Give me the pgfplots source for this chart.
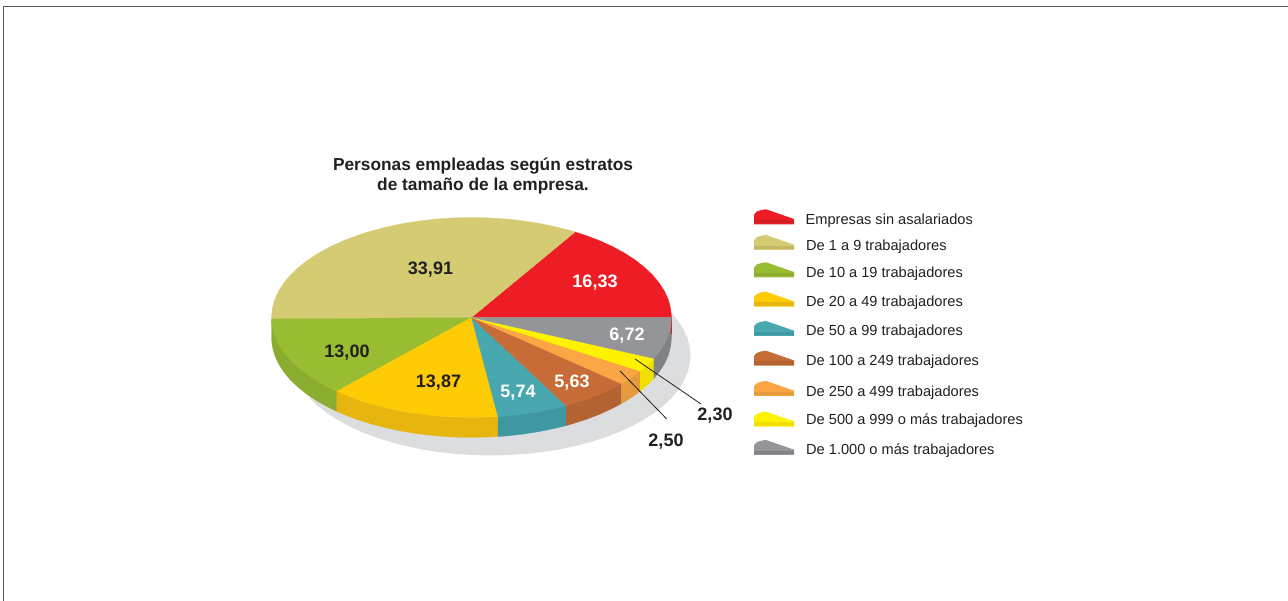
\documentclass[border=0pt]{standalone}
\usepackage{fontspec}
\setmainfont{Liberation Sans}
\usepackage{pgfplots}
\usepackage{pgfplotstable}
\pgfplotsset{compat=1.18}

\definecolor{txt}{HTML}{231F20}
\definecolor{frame}{HTML}{58595B}
\definecolor{shadow}{HTML}{DCDDDF}
\definecolor{cRed}{HTML}{EE1C25}    \definecolor{wRed}{HTML}{D11F27}
\definecolor{cKhaki}{HTML}{D5CB72}  \definecolor{wKhaki}{HTML}{C2B767}
\definecolor{cGreen}{HTML}{98BC32}  \definecolor{wGreen}{HTML}{8BAD2F}
\definecolor{cGold}{HTML}{FFCB05}   \definecolor{wGold}{HTML}{E6B60F}
\definecolor{cTeal}{HTML}{48A7AF}   \definecolor{wTeal}{HTML}{3F97A1}
\definecolor{cBrown}{HTML}{C76C36}  \definecolor{wBrown}{HTML}{B36232}
\definecolor{cOrange}{HTML}{FBA544} \definecolor{wOrange}{HTML}{E59A3C}
\definecolor{cYellow}{HTML}{FFF200} \definecolor{wYellow}{HTML}{EFE000}
\definecolor{cGray}{HTML}{939598}   \definecolor{wGray}{HTML}{818285}

% legend swatch outline, x and y in pixels from its lower left corner
\pgfplotstableread{
x y
0 0
0 9.3
1.2 11.2
3 12.8
7 14.2
12 15
40 5.3
40 0
}\swatchtop
\pgfplotstableread{
x y
0 0.8
0 4.2
40 4.2
40 0.8
}\swatchwall

\newcommand{\swatch}[3]{%
  \addplot[fill=#1,draw=none] table[x expr=\thisrow{x}+282.5,y expr=\thisrow{y}+#3] {\swatchtop} --cycle;
  \addplot[fill=#2,draw=none] table[x expr=\thisrow{x}+282.5,y expr=\thisrow{y}+#3] {\swatchwall} --cycle;
}
\newcommand{\leg}[3]{\node[anchor=west,yshift=-2pt,font=\fontsize{14.6}{16}\selectfont,text=txt,inner sep=0pt] at (axis cs:#1,#2) {#3};}
\newcommand{\val}[4]{\node[yshift=-2pt,font=\fontsize{18}{20}\bfseries\selectfont,text=#3,inner sep=0pt] at (axis cs:#1,#2) {#4};}

\begin{document}
\begin{tikzpicture}
\begin{axis}[
  scale only axis, width=1288pt, height=601pt,
  xmin=-471.5, xmax=816.5, ymin=-283.5, ymax=317.5,
  axis lines=none, clip=false,
  every axis plot/.append style={line width=0.25pt}
]
% keep the whole page in the bounding box
\path[use as bounding box] (axis cs:-471.5,-283.5) rectangle (axis cs:816.5,317.5);

% page frame
\addplot[frame,line width=1.8pt] coordinates {(-468,-283.5)(-468,311)(816.5,311)};

% shadow under the pie
\addplot[fill=shadow,draw=none] coordinates {
 (200.3,4.3)(206.9,-3.8)(212.2,-12.1)(216,-20.6)(218.2,-29.3)(219,-38)
 (218.2,-46.7)(216,-55.4)(212.2,-63.9)(206.9,-72.2)(200.3,-80.3)(192.2,-88)(182.8,-95.4)(172.2,-102.3)
 (160.4,-108.7)(147.6,-114.6)(133.7,-119.9)(119,-124.6)(103.5,-128.6)(87.4,-132)(70.8,-134.6)(53.7,-136.5)(36.4,-137.6)(19,-138)
 (1.6,-137.6)(-15.7,-136.5)(-32.8,-134.6)(-49.4,-132)(-65.5,-128.6)(-81,-124.6)(-95.7,-119.9)(-109.6,-114.6)
 (-122.4,-108.7)(-134.2,-102.3)(-144.8,-95.4)(-154.2,-88)(-162.3,-80.3)
} --cycle;

% side walls
\addplot[fill=wGreen,draw=wGreen] coordinates {(-200,-1.5)(-199.2,-8.7)(-197,-17.4)(-193.2,-25.9)(-187.9,-34.2)(-181.3,-42.3)(-173.2,-50)(-163.8,-57.4)(-153.2,-64.3)(-141.4,-70.7)(-134.7,-73.9)(-134.7,-93.9)(-141.4,-90.7)(-153.2,-84.3)(-163.8,-77.4)(-173.2,-70)(-181.3,-62.3)(-187.9,-54.2)(-193.2,-45.9)(-197,-37.4)(-199.2,-28.7)(-200,-21.5)} --cycle;
\addplot[fill=wGold,draw=wGold] coordinates {(-134.7,-73.9)(-128.6,-76.6)(-114.7,-81.9)(-100,-86.6)(-84.5,-90.6)(-68.4,-94)(-51.8,-96.6)(-34.7,-98.5)(-17.4,-99.6)(0,-100)(17.4,-99.6)(26.5,-99.1)(26.5,-119.1)(17.4,-119.6)(0,-120)(-17.4,-119.6)(-34.7,-118.5)(-51.8,-116.6)(-68.4,-114)(-84.5,-110.6)(-100,-106.6)(-114.7,-101.9)(-128.6,-96.6)(-134.7,-93.9)} --cycle;
\addplot[fill=wTeal,draw=wTeal] coordinates {(26.5,-99.1)(34.7,-98.5)(51.8,-96.6)(68.4,-94)(84.5,-90.6)(94.7,-88.1)(94.7,-108.1)(84.5,-110.6)(68.4,-114)(51.8,-116.6)(34.7,-118.5)(26.5,-119.1)} --cycle;
\addplot[fill=wBrown,draw=wBrown] coordinates {(94.7,-88.1)(100,-86.6)(114.7,-81.9)(128.6,-76.6)(141.4,-70.7)(149.8,-66.2)(149.8,-86.2)(141.4,-90.7)(128.6,-96.6)(114.7,-101.9)(100,-106.6)(94.7,-108.1)} --cycle;
\addplot[fill=wOrange,draw=wOrange] coordinates {(149.8,-66.2)(153.2,-64.3)(163.8,-57.4)(168.7,-53.7)(168.7,-73.7)(163.8,-77.4)(153.2,-84.3)(149.8,-86.2)} --cycle;
\addplot[fill=wYellow,draw=wYellow] coordinates {(168.7,-53.7)(173.2,-50)(181.3,-42.3)(182.4,-41)(182.4,-61)(181.3,-62.3)(173.2,-70)(168.7,-73.7)} --cycle;
\addplot[fill=wGray,draw=wGray] coordinates {(182.4,-41)(187.9,-34.2)(193.2,-25.9)(197,-17.4)(199.2,-8.7)(200,0)(200,-20)(199.2,-28.7)(197,-37.4)(193.2,-45.9)(187.9,-54.2)(182.4,-61)} --cycle;
\addplot[wRed,line width=0.7pt] coordinates {(199.7,0)(199.7,-17)};

% top slices
\addplot[fill=cRed,draw=cRed] coordinates {(0,0)(200,0)(199.2,8.7)(197,17.4)(193.2,25.9)(187.9,34.2)(181.3,42.3)(173.2,50)(163.8,57.4)(153.2,64.3)(141.4,70.7)(128.6,76.6)(114.7,81.9)(103.6,85.5)} --cycle;
\addplot[fill=cKhaki,draw=cKhaki] coordinates {(0,0)(103.6,85.5)(100,86.6)(84.5,90.6)(68.4,94)(51.8,96.6)(34.7,98.5)(17.4,99.6)(0,100)(-17.4,99.6)(-34.7,98.5)(-51.8,96.6)(-68.4,94)(-84.5,90.6)(-100,86.6)(-114.7,81.9)(-128.6,76.6)(-141.4,70.7)(-153.2,64.3)(-163.8,57.4)(-173.2,50)(-181.3,42.3)(-187.9,34.2)(-193.2,25.9)(-197,17.4)(-199.2,8.7)(-200,0)(-200,-1.5)} --cycle;
\addplot[fill=cGreen,draw=cGreen] coordinates {(0,0)(-200,-1.5)(-199.2,-8.7)(-197,-17.4)(-193.2,-25.9)(-187.9,-34.2)(-181.3,-42.3)(-173.2,-50)(-163.8,-57.4)(-153.2,-64.3)(-141.4,-70.7)(-134.7,-73.9)} --cycle;
\addplot[fill=cGold,draw=cGold] coordinates {(0,0)(-134.7,-73.9)(-128.6,-76.6)(-114.7,-81.9)(-100,-86.6)(-84.5,-90.6)(-68.4,-94)(-51.8,-96.6)(-34.7,-98.5)(-17.4,-99.6)(0,-100)(17.4,-99.6)(26.5,-99.1)} --cycle;
\addplot[fill=cTeal,draw=cTeal] coordinates {(0,0)(26.5,-99.1)(34.7,-98.5)(51.8,-96.6)(68.4,-94)(84.5,-90.6)(94.7,-88.1)} --cycle;
\addplot[fill=cBrown,draw=cBrown] coordinates {(0,0)(94.7,-88.1)(100,-86.6)(114.7,-81.9)(128.6,-76.6)(141.4,-70.7)(149.8,-66.2)} --cycle;
\addplot[fill=cOrange,draw=cOrange] coordinates {(0,0)(149.8,-66.2)(153.2,-64.3)(163.8,-57.4)(168.7,-53.7)} --cycle;
\addplot[fill=cYellow,draw=cYellow] coordinates {(0,0)(168.7,-53.7)(173.2,-50)(181.3,-42.3)(182.4,-41)} --cycle;
\addplot[fill=cGray,draw=cGray] coordinates {(0,0)(182.4,-41)(187.9,-34.2)(193.2,-25.9)(197,-17.4)(199.2,-8.7)(200,0)} --cycle;

% leader lines
\addplot[txt,line width=0.8pt] coordinates {(163.5,-41.5)(229.5,-86.5)};
\addplot[txt,line width=0.8pt] coordinates {(148.5,-53.5)(195.2,-101.5)};

% values
\val{123.5}{36.5}{white}{16,33}
\val{-41}{49.5}{txt}{33,91}
\val{-124.5}{-33.5}{txt}{13,00}
\val{-33}{-63.5}{txt}{13,87}
\val{46.5}{-73.5}{white}{5,74}
\val{100.5}{-63.5}{white}{5,63}
\val{155.5}{-16.5}{white}{6,72}
\val{243.5}{-96.5}{txt}{2,30}
\val{194.5}{-122.5}{txt}{2,50}

% title
\node[yshift=-2pt,font=\fontsize{17.3}{20}\bfseries\selectfont,text=txt,align=center,inner sep=0pt] at (axis cs:11.5,143.5)
  {Personas empleadas según estratos\\de tamaño de la empresa.};

% legend
\swatch{cRed}{wRed}{93.2}
\swatch{cKhaki}{wKhaki}{67.5}
\swatch{cGreen}{wGreen}{40.2}
\swatch{cGold}{wGold}{10.8}
\swatch{cTeal}{wTeal}{-18.5}
\swatch{cBrown}{wBrown}{-48.2}
\swatch{cOrange}{wOrange}{-78.5}
\swatch{cYellow}{wYellow}{-109.2}
\swatch{cGray}{wGray}{-137.5}
\leg{334}{98.5}{Empresas sin asalariados}
\leg{334.5}{72.5}{De 1 a 9 trabajadores}
\leg{334.5}{45.5}{De 10 a 19 trabajadores}
\leg{334.5}{16.5}{De 20 a 49 trabajadores}
\leg{334.5}{-12.5}{De 50 a 99 trabajadores}
\leg{334.5}{-42.5}{De 100 a 249 trabajadores}
\leg{334.5}{-73.5}{De 250 a 499 trabajadores}
\leg{334.5}{-101.5}{De 500 a 999 o más trabajadores}
\leg{334.5}{-131.5}{De 1.000 o más trabajadores}
\end{axis}
\end{tikzpicture}
\end{document}
